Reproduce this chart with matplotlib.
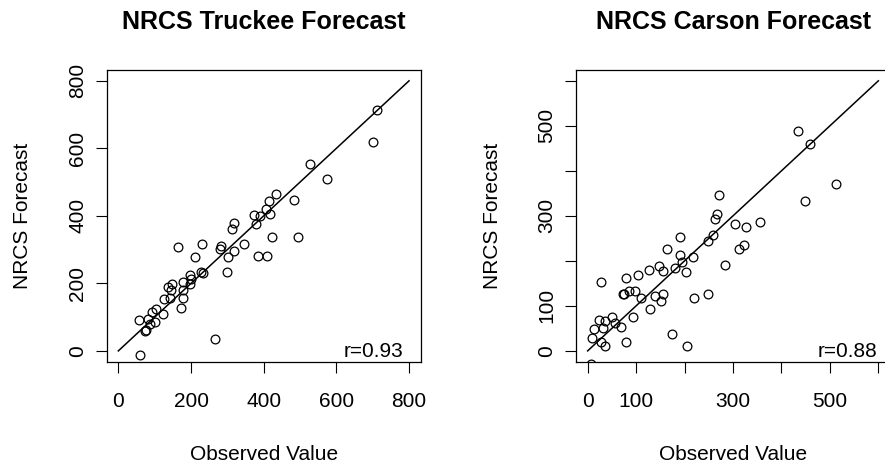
import numpy as np
import matplotlib
matplotlib.use("Agg")
import matplotlib.pyplot as plt

plt.rcParams['font.family'] = ['Liberation Sans', 'DejaVu Sans']

# Truckee: observed vs NRCS forecast
truckee_obs = [711, 702, 528, 573, 434, 414, 482, 374, 389, 406, 418, 379, 317, 314,
               422, 495, 347, 283, 280, 317, 301, 383, 408, 230, 163, 212, 299, 227,
               234, 197, 200, 198, 179, 149, 136, 144, 179, 142, 126, 179, 172, 124,
               104, 92, 81, 58, 101, 87, 73, 75, 266, 61]
truckee_fc = [713, 618, 555, 509, 466, 443, 447, 403, 401, 421, 405, 377, 379, 361,
              338, 338, 318, 312, 301, 295, 278, 282, 282, 318, 308, 278, 233, 234,
              232, 225, 213, 197, 204, 197, 189, 181, 179, 157, 153, 157, 128, 109,
              123, 115, 94, 91, 87, 80, 60, 62, 35, -13]

# Carson: observed vs NRCS forecast
carson_obs = [435, 458, 513, 449, 272, 268, 263, 304, 327, 356, 258, 249, 313, 322,
              190, 190, 164, 218, 195, 181, 203, 283, 147, 156, 126, 104, 79, 28,
              86, 98, 73, 75, 156, 140, 152, 110, 219, 249, 128, 93, 50, 24, 36,
              57, 69, 14, 31, 10, 27, 36, 79, 174, 206, 7]
carson_fc = [488, 460, 371, 334, 347, 303, 292, 282, 275, 287, 258, 244, 226, 235,
             253, 213, 226, 208, 197, 185, 175, 191, 188, 178, 180, 168, 161, 154,
             134, 133, 126, 126, 126, 121, 111, 117, 117, 126, 92, 76, 76, 69, 66,
             62, 54, 49, 51, 29, 20, 10, 19, 37, 10, -28]

truckee_ticks = [0, 200, 400, 600, 800]
truckee_labels = ["0", "200", "400", "600", "800"]
carson_ticks = [0, 100, 200, 300, 400, 500, 600]
carson_labels = ["0", "100", "", "300", "", "500", ""]

W, H = 885, 466
fig = plt.figure(figsize=(W / 100, H / 100), dpi=100)

panels = [
    dict(left=106.7, title="NRCS Truckee Forecast", x=truckee_obs, y=truckee_fc,
         lim=(-32, 832), ticks=truckee_ticks, labels=truckee_labels,
         r="r=0.93", rx=403),
    dict(left=576.0, title="NRCS Carson Forecast", x=carson_obs, y=carson_fc,
         lim=(-24, 624), ticks=carson_ticks, labels=carson_labels,
         r="r=0.88", rx=877),
]

top, bottom, width = 70, 361.7, 314
for p in panels:
    ax = fig.add_axes([p["left"] / W, 1 - bottom / H, width / W, (bottom - top) / H])
    ax.plot(p["x"], p["y"], 'o', mfc='none', mec='black', ms=6.3, mew=0.9)
    ax.plot([0, p["ticks"][-1]], [0, p["ticks"][-1]], color='black', lw=1.1)
    ax.set_xlim(p["lim"])
    ax.set_ylim(p["lim"])
    ax.set_xticks(p["ticks"])
    ax.set_xticklabels(p["labels"])
    ax.set_yticks(p["ticks"])
    ax.set_yticklabels(p["labels"], rotation=90, va='center')
    ax.tick_params(length=8, width=0.8, labelsize=15, pad=13.5)
    ax.tick_params(axis='y', pad=6)
    for s in ax.spines.values():
        s.set_linewidth(0.9)
    ax.set_xlabel("Observed Value", fontsize=15, va='center')
    ax.xaxis.set_label_coords(0.5, (bottom - 454) / (bottom - top))
    ax.set_ylabel("NRCS Forecast", fontsize=15, va='center')
    ax.yaxis.set_label_coords(-84 / width, 0.5)
    ax.set_title(p["title"], fontsize=18, fontweight='bold', va='center',
                 y=1 + (top - 22) / (bottom - top), pad=0)
    ax.text((p["rx"] - p["left"]) / width, 4.7 / (bottom - top), p["r"],
            transform=ax.transAxes, ha='right', va='baseline', fontsize=15)

fig.savefig("out.png", dpi=100)
